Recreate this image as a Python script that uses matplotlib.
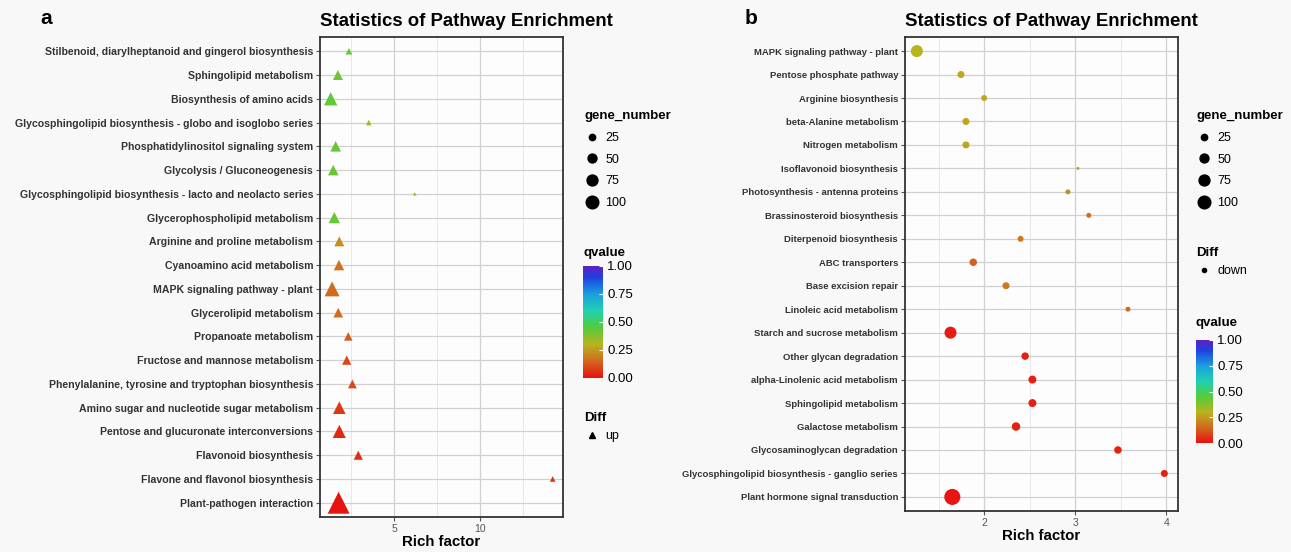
import matplotlib.pyplot as plt
import numpy as np
from matplotlib.colors import LinearSegmentedColormap, Normalize
from matplotlib.cm import ScalarMappable
from matplotlib.lines import Line2D

plt.rcParams['font.family'] = ['Liberation Sans', 'DejaVu Sans']

# panel a : up-regulated pathways (top to bottom)
pathways_a = [
    'Stilbenoid, diarylheptanoid and gingerol biosynthesis',
    'Sphingolipid metabolism',
    'Biosynthesis of amino acids',
    'Glycosphingolipid biosynthesis - globo and isoglobo series',
    'Phosphatidylinositol signaling system',
    'Glycolysis / Gluconeogenesis',
    'Glycosphingolipid biosynthesis - lacto and neolacto series',
    'Glycerophospholipid metabolism',
    'Arginine and proline metabolism',
    'Cyanoamino acid metabolism',
    'MAPK signaling pathway - plant',
    'Glycerolipid metabolism',
    'Propanoate metabolism',
    'Fructose and mannose metabolism',
    'Phenylalanine, tyrosine and tryptophan biosynthesis',
    'Amino sugar and nucleotide sugar metabolism',
    'Pentose and glucuronate interconversions',
    'Flavonoid biosynthesis',
    'Flavone and flavonol biosynthesis',
    'Plant-pathogen interaction',
]
rich_a = [2.38, 1.74, 1.32, 3.53, 1.61, 1.47, 6.2, 1.53, 1.82, 1.80,
          1.40, 1.76, 2.34, 2.25, 2.58, 1.82, 1.82, 2.92, 14.2, 1.78]
genes_a = [17, 38, 68, 12, 43, 43, 5, 49, 38, 42,
           86, 36, 28, 33, 30, 61, 66, 32, 12, 185]
q_a = [0.41, 0.41, 0.43, 0.35, 0.42, 0.42, 0.34, 0.42, 0.22, 0.17,
       0.16, 0.16, 0.13, 0.10, 0.10, 0.07, 0.04, 0.05, 0.06, 0.01]

# panel b : down-regulated pathways (top to bottom)
pathways_b = [
    'MAPK signaling pathway - plant',
    'Pentose phosphate pathway',
    'Arginine biosynthesis',
    'beta-Alanine metabolism',
    'Nitrogen metabolism',
    'Isoflavonoid biosynthesis',
    'Photosynthesis - antenna proteins',
    'Brassinosteroid biosynthesis',
    'Diterpenoid biosynthesis',
    'ABC transporters',
    'Base excision repair',
    'Linoleic acid metabolism',
    'Starch and sucrose metabolism',
    'Other glycan degradation',
    'alpha-Linolenic acid metabolism',
    'Sphingolipid metabolism',
    'Galactose metabolism',
    'Glycosaminoglycan degradation',
    'Glycosphingolipid biosynthesis - ganglio series',
    'Plant hormone signal transduction',
]
rich_b = [1.26, 1.745, 2.0, 1.80, 1.80, 3.03, 2.92, 3.15, 2.40, 1.88,
          2.24, 3.58, 1.63, 2.45, 2.53, 2.53, 2.35, 3.47, 3.98, 1.65]
genes_b = [100, 34, 25, 34, 34, 6, 17, 17, 25, 39,
           34, 17, 100, 39, 44, 44, 50, 39, 34, 178]
q_b = [0.30, 0.28, 0.28, 0.27, 0.27, 0.26, 0.22, 0.16, 0.18, 0.14,
       0.18, 0.15, 0.02, 0.03, 0.03, 0.03, 0.03, 0.03, 0.03, 0.01]

legend_sizes = [25, 50, 75, 100]

cmap = LinearSegmentedColormap.from_list('qv', [
    (0.00, '#e81010'), (0.15, '#d2691e'), (0.30, '#b8b41e'),
    (0.45, '#52cc3a'), (0.60, '#20d0b0'), (0.75, '#1aa0e0'),
    (0.90, '#2040e0'), (1.00, '#6020c0')])
norm = Normalize(0, 1)


def circ_size(g):
    return 0.75 * np.asarray(g, dtype=float)


def tri_size(g):
    return 1.8 * circ_size(g)


W, H = 1291, 552
fig = plt.figure(figsize=(W / 100, H / 100), dpi=100, facecolor='#f8f8f8')


def style_axes(ax, labels, xlim, xmaj, xmin, fs):
    ax.set_facecolor('#fdfdfd')
    ax.set_xlim(*xlim)
    ax.set_ylim(len(labels) - 0.4, -0.6)
    ax.set_xticks(xmaj)
    ax.set_xticks(xmin, minor=True)
    ax.grid(True, which='major', color='#d0d0d0', lw=0.9)
    ax.grid(True, which='minor', axis='x', color='#e4e4e4', lw=0.6)
    ax.set_axisbelow(True)
    for sp in ax.spines.values():
        sp.set_color('#333333')
        sp.set_linewidth(1.3)
    ax.tick_params(axis='y', labelsize=fs, length=3, color='#555555', pad=2)
    ax.tick_params(axis='x', labelsize=7.5, length=3, color='#555555',
                   labelcolor='#555555', pad=2)
    ax.tick_params(which='minor', length=0)
    for t in ax.get_yticklabels():
        t.set_fontweight('bold')
        t.set_color('#333333')
    ax.set_xlabel('Rich factor', fontsize=10.8, fontweight='bold', labelpad=1)
    ax.set_title('Statistics of Pathway Enrichment', loc='left',
                 fontsize=13.4, fontweight='bold', pad=8)


# ---- panel a ----
ax1 = fig.add_axes([320 / W, 1 - 517 / H, 243 / W, 480 / H])
ax1.scatter(rich_a, pathways_a, s=tri_size(genes_a), c=q_a, cmap=cmap,
            norm=norm, marker='^', linewidths=0)
style_axes(ax1, pathways_a, (0.7, 14.8), [5, 10], [2.5, 7.5, 12.5], 7.6)

# ---- panel b ----
ax2 = fig.add_axes([905 / W, 1 - 511 / H, 273 / W, 474 / H])
ax2.scatter(rich_b, pathways_b, s=circ_size(genes_b), c=q_b, cmap=cmap,
            norm=norm, marker='o', linewidths=0)
style_axes(ax2, pathways_b, (1.13, 4.13), [2, 3, 4], [1.5, 2.5, 3.5], 6.8)

fig.text(40 / W, 1 - 18 / H, 'a', fontsize=15, fontweight='bold', va='center')
fig.text(745 / W, 1 - 18 / H, 'b', fontsize=15, fontweight='bold', va='center')


def size_legend(x, y):
    hs = [Line2D([], [], ls='', marker='o', color='black',
                 markersize=np.sqrt(circ_size(g)) * 1.05) for g in legend_sizes]
    return fig.legend(hs, [str(g) for g in legend_sizes], title='gene_number',
                      loc='upper left', bbox_to_anchor=(x / W, 1 - y / H),
                      frameon=False, fontsize=9, alignment='left',
                      title_fontproperties={'weight': 'bold', 'size': 9.5},
                      labelspacing=0.78, handletextpad=0.5, borderpad=0,
                      handlelength=1.2)


def diff_legend(x, y, marker, label, ms):
    h = [Line2D([], [], ls='', marker=marker, color='black', markersize=ms)]
    return fig.legend(h, [label], title='Diff', loc='upper left',
                      bbox_to_anchor=(x / W, 1 - y / H), frameon=False,
                      fontsize=9, alignment='left',
                      title_fontproperties={'weight': 'bold', 'size': 9.5},
                      handletextpad=0.5, borderpad=0, handlelength=1.2)


def qbar(x, ytop, ybot, w, label_y):
    cax = fig.add_axes([x / W, 1 - ybot / H, w / W, (ybot - ytop) / H])
    cb = fig.colorbar(ScalarMappable(norm=norm, cmap=cmap), cax=cax,
                      ticks=[0, 0.25, 0.5, 0.75, 1.0], format='%.2f')
    cb.outline.set_visible(False)
    cax.tick_params(length=3, color='white', labelsize=9.5, pad=3,
                    direction='in')
    fig.text(x / W, 1 - label_y / H, 'qvalue', fontsize=9.5,
             fontweight='bold', va='center')


size_legend(578, 104)
qbar(583, 266, 378, 20, 253)
diff_legend(578, 406, '^', 'up', 4)

size_legend(1190, 104)
diff_legend(1190, 241, 'o', 'down', 3)
qbar(1196, 340, 443, 17, 323)

fig.savefig('out.png', dpi=100, facecolor=fig.get_facecolor())
